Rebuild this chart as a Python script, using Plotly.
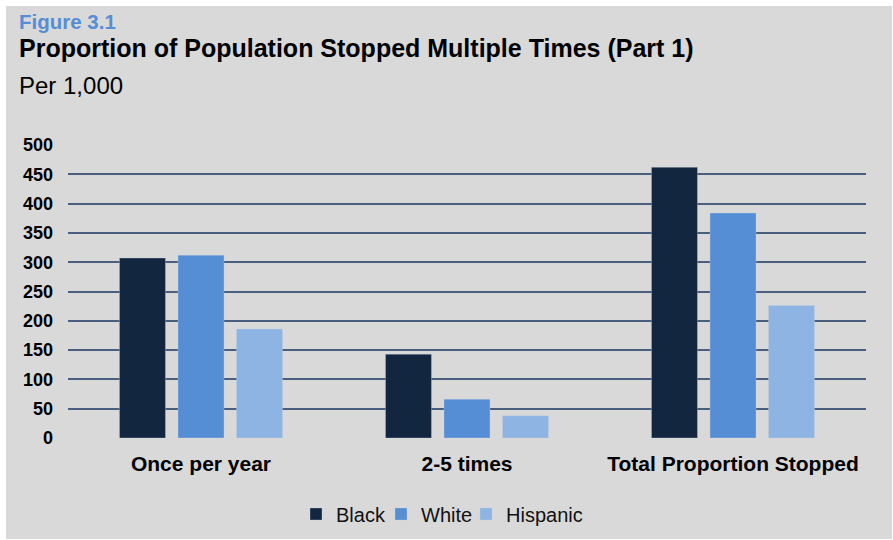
import plotly.graph_objects as go

categories = ["Once per year", "2-5 times", "Total Proportion Stopped"]
series_names = ["Black", "White", "Hispanic"]
black_vals = [307, 143, 462]
white_vals = [312, 66, 384]
hispanic_vals = [186, 38, 226]
series_colors = ["#12263f", "#558ed5", "#8eb4e3"]
y_ticks = [0, 50, 100, 150, 200, 250, 300, 350, 400, 450, 500]

FONT = "Liberation Sans, Arial, Helvetica, sans-serif"
BG = "#d9d9d9"

fig = go.Figure()
for name, vals, col in zip(series_names, [black_vals, white_vals, hispanic_vals], series_colors):
    fig.add_trace(go.Bar(
        x=categories, y=vals, name=name,
        marker=dict(color=col, line=dict(color="rgba(200,210,225,0.35)", width=1)),
    ))
# invisible spacer entry so the fixed-width legend does not clip the last label
fig.add_trace(go.Scatter(
    x=[None], y=[None], mode="markers", name=" ",
    marker=dict(color="rgba(0,0,0,0)"), hoverinfo="skip",
))

W, H = 893, 540
ml, mr, mt, mb = 68, 27, 145, 102
pw = W - ml - mr
ph = H - mt - mb

def px_x(x):
    return (x - ml) / pw

def px_y(y):
    return (H - mb - y) / ph

fig.update_layout(
    width=W, height=H,
    margin=dict(l=ml, r=mr, t=mt, b=mb, autoexpand=False),
    paper_bgcolor="white",
    plot_bgcolor=BG,
    barmode="group",
    bargap=0.34,
    bargroupgap=0.214,
    font=dict(family=FONT, color="black"),
    showlegend=True,
    legend=dict(
        orientation="h", x=px_x(296), xanchor="left", y=px_y(514), yanchor="middle",
        font=dict(size=20, family=FONT, color="#111111"),
        bgcolor="rgba(0,0,0,0)", itemwidth=30, traceorder="normal",
        entrywidth=40,
    ),
    xaxis=dict(
        showgrid=False, showline=False, ticks="",
        tickfont=dict(size=21, family=FONT, color="black", weight="bold"),
        ticklabelstandoff=11,
    ),
    yaxis=dict(
        range=[0, 500], tickvals=y_ticks, ticktext=[str(v) for v in y_ticks],
        showgrid=True, gridcolor="#4a5f7e", gridwidth=2,
        zeroline=True, zerolinecolor=BG, zerolinewidth=3,
        showline=False, ticks="",
        tickfont=dict(size=18, family=FONT, color="black", weight="bold"),
        ticklabelstandoff=14,
    ),
    shapes=[dict(
        type="rect", xref="paper", yref="paper",
        x0=px_x(6), x1=px_x(892), y0=px_y(539), y1=px_y(6),
        fillcolor=BG, line=dict(width=0), layer="below",
    )],
    annotations=[
        dict(text="<b>Figure 3.1</b>", xref="paper", yref="paper",
             x=px_x(18), y=px_y(22), xanchor="left", yanchor="middle", showarrow=False,
             borderpad=0, font=dict(size=20.5, family=FONT, color="#558ed5")),
        dict(text="<b>Proportion of Population Stopped Multiple Times (Part 1)</b>", xref="paper", yref="paper",
             x=px_x(18), y=px_y(47.5), xanchor="left", yanchor="middle", showarrow=False,
             borderpad=0, font=dict(size=25, family=FONT, color="black")),
        dict(text="Per 1,000", xref="paper", yref="paper",
             x=px_x(18), y=px_y(86), xanchor="left", yanchor="middle", showarrow=False,
             borderpad=0, font=dict(size=24, family=FONT, color="black")),
    ],
)

fig.write_html("out.html")
